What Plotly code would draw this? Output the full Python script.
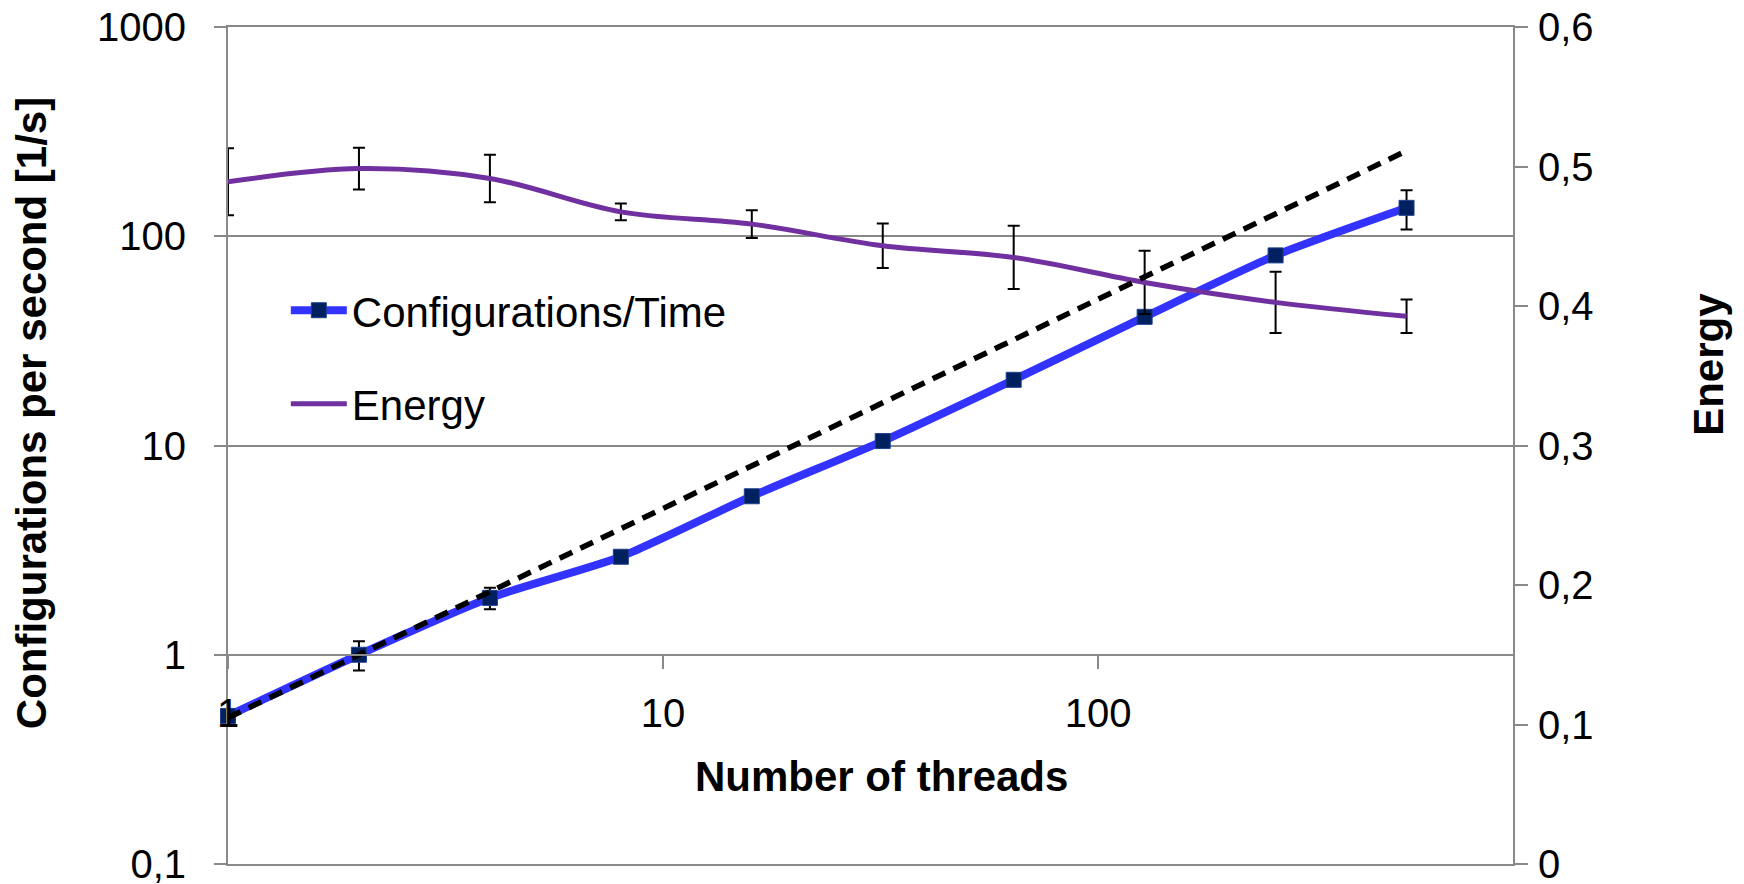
import plotly.graph_objects as go

# ---------------- data ----------------
threads = [1, 2, 4, 8, 16, 32, 64, 128, 256, 512]
configs_per_sec = [0.51, 1.0, 1.87, 2.94, 5.72, 10.5, 20.6, 41.2, 81.0, 136.7]
configs_err = [0.04, 0.16, 0.22, 0.15, 0.3, 0.5, 1.0, 2.0, 4.0, 29.0]
ideal_scaling = [0.5, 1, 2, 4, 8, 16, 32, 64, 128, 256]
energy = [0.489, 0.4985, 0.4914, 0.4675, 0.4587, 0.4432, 0.4348, 0.4169, 0.4026, 0.3926]
energy_err = [0.024, 0.015, 0.017, 0.006, 0.0099, 0.016, 0.0227, 0.0227, 0.022, 0.012]

left_tickvals = [0.1, 1, 10, 100, 1000]
left_ticktext = ["0,1", "1", "10", "100", "1000"]
right_tickvals = [0, 0.1, 0.2, 0.3, 0.4, 0.5, 0.6]
right_ticktext = ["0", "0,1", "0,2", "0,3", "0,4", "0,5", "0,6"]
x_tickvals = [1, 10, 100]
x_ticktext = ["1", "10", "100"]

FONT = "Liberation Sans, Arial, sans-serif"
GRID = "#898989"

fig = go.Figure()

# Configurations/Time
fig.add_trace(go.Scatter(
    x=threads, y=configs_per_sec, name="Configurations/Time",
    mode="lines+markers",
    line=dict(color="#3333FF", width=8, shape="spline", smoothing=0.6),
    marker=dict(symbol="square", size=15, color="#002060", line=dict(color="#1F3F8F", width=1)),
    error_y=dict(type="data", array=configs_err, color="black", thickness=2, width=6),
    cliponaxis=False,
    legendgroup="a",
))

# ideal scaling (dashed) -- drawn on the frame x-axis that mirrors x
fig.add_trace(go.Scatter(
    x=threads, y=ideal_scaling, xaxis="x2", yaxis="y", mode="lines", showlegend=False,
    line=dict(color="black", width=5.5, dash="14px,9px"),
    cliponaxis=False,
    legendgroup="a",
))

# Energy (secondary axis)
fig.add_trace(go.Scatter(
    x=threads, y=energy, yaxis="y2", name="Energy",
    mode="lines", line=dict(color="#7030A0", width=5, shape="spline", smoothing=1.0),
    error_y=dict(type="data", array=energy_err, color="black", thickness=2, width=6),
    legendgroup="b",
))

fig.update_layout(
    width=1744, height=884,
    margin=dict(l=228, r=231, t=27, b=20, pad=0, autoexpand=False),
    paper_bgcolor="white", plot_bgcolor="white",
    separators=", ",
    font=dict(family=FONT, size=40, color="black"),
    showlegend=True,
    legend=dict(
        x=0.045, y=0.702, xanchor="left", yanchor="top",
        font=dict(size=42, family=FONT),
        bgcolor="rgba(0,0,0,0)", traceorder="grouped", tracegroupgap=36,
        itemwidth=56,
    ),
    xaxis=dict(
        type="log", range=[0, 2.954], anchor="free", position=0.25,
        showgrid=False, zeroline=False, showline=True, linecolor=GRID, linewidth=2,
        ticks="outside", ticklen=13, tickcolor=GRID, tickwidth=2,
        tickvals=x_tickvals, ticktext=x_ticktext, ticklabelstandoff=10,
        tickfont=dict(size=40, family=FONT), automargin=False,
    ),
    # frame lines at the bottom (0,1) and top (1000) gridline positions
    xaxis2=dict(
        overlaying="x", matches="x", anchor="y", side="bottom", type="log",
        showgrid=False, zeroline=False, showline=True, mirror=True,
        linecolor=GRID, linewidth=2, ticks="", showticklabels=False, automargin=False,
    ),
    yaxis=dict(
        type="log", range=[-1, 3], domain=[0, 1],
        showgrid=True, gridcolor=GRID, gridwidth=2, zeroline=False,
        showline=True, linecolor=GRID, linewidth=2,
        ticks="outside", ticklen=12, tickcolor=GRID, tickwidth=2,
        tickvals=left_tickvals, ticktext=left_ticktext, ticklabelstandoff=20,
        ticklabeloverflow="allow", automargin=False,
        tickfont=dict(size=40, family=FONT),
    ),
    yaxis2=dict(
        overlaying="y", side="right", range=[0, 0.6],
        showgrid=False, zeroline=False, showline=True, linecolor=GRID, linewidth=2,
        ticks="outside", ticklen=13, tickcolor=GRID, tickwidth=2,
        tickvals=right_tickvals, ticktext=right_ticktext, ticklabelstandoff=2,
        ticklabeloverflow="allow", automargin=False,
        tickfont=dict(size=40, family=FONT),
    ),
    annotations=[
        dict(text="<b>Number of threads</b>", xref="paper", yref="paper",
             x=0.5087, y=0.1051, xanchor="center", yanchor="middle", showarrow=False,
             font=dict(size=42, family=FONT)),
        dict(text="<b>Configurations per second [1/s]</b>", xref="paper", yref="paper",
             x=-0.1533, y=0.5386, xanchor="center", yanchor="middle", showarrow=False,
             textangle=-90, font=dict(size=42, family=FONT)),
        dict(text="<b>Energy</b>", xref="paper", yref="paper",
             x=1.1515, y=0.5972, xanchor="center", yanchor="middle", showarrow=False,
             textangle=-90, font=dict(size=42, family=FONT)),
    ],
)

fig.write_html("out.html")
